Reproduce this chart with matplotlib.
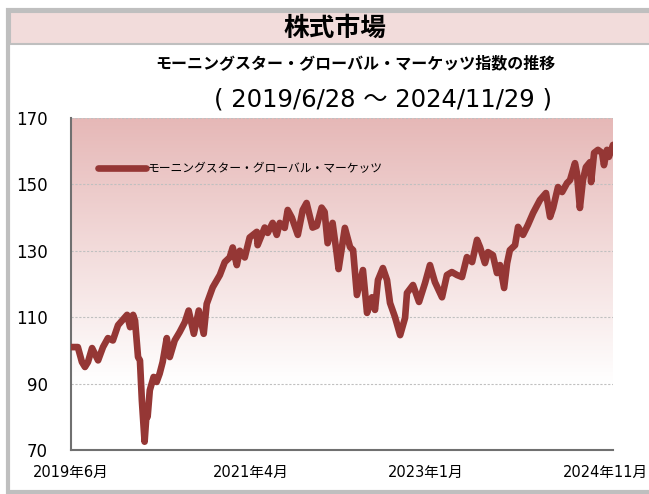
import matplotlib
matplotlib.use("Agg")
import matplotlib.pyplot as plt
import matplotlib.dates as mdate
import matplotlib.transforms as mtrans
from matplotlib.patches import Rectangle
import numpy as np
import pandas as pd

plt.rcParams['font.family'] = ['DejaVu Sans', 'Noto Sans CJK JP']

title = "株式市場"
subtitle = "モーニングスター・グローバル・マーケッツ指数の推移"
period = "( 2019/6/28 ～ 2024/11/29 )"
series_name = "モーニングスター・グローバル・マーケッツ"

dates = [
    "2019-06-28", "2019-07-23", "2019-08-07", "2019-08-18", "2019-08-29", "2019-09-13",
    "2019-10-05", "2019-10-23", "2019-11-10", "2019-11-28", "2019-12-17", "2020-01-19",
    "2020-01-30", "2020-02-10", "2020-02-17", "2020-02-28", "2020-03-06", "2020-03-13",
    "2020-03-23", "2020-03-31", "2020-04-03", "2020-04-11", "2020-04-25", "2020-05-06",
    "2020-05-17", "2020-05-28", "2020-06-12", "2020-06-23", "2020-07-11", "2020-07-29",
    "2020-08-17", "2020-08-31", "2020-09-19", "2020-10-07", "2020-10-25", "2020-11-05",
    "2020-11-27", "2020-12-23", "2021-01-10", "2021-01-28", "2021-02-08", "2021-02-23",
    "2021-03-06", "2021-03-24", "2021-04-11", "2021-05-07", "2021-05-10", "2021-06-05",
    "2021-06-16", "2021-07-04", "2021-07-19", "2021-07-30", "2021-08-17", "2021-08-28",
    "2021-09-12", "2021-10-04", "2021-10-22", "2021-11-05", "2021-11-27", "2021-12-12",
    "2021-12-30", "2022-01-10", "2022-01-21", "2022-02-08", "2022-02-23", "2022-03-02",
    "2022-03-25", "2022-04-13", "2022-04-24", "2022-05-08", "2022-05-30", "2022-06-14",
    "2022-07-02", "2022-07-13", "2022-07-24", "2022-08-11", "2022-08-26", "2022-09-06",
    "2022-09-24", "2022-10-13", "2022-10-31", "2022-11-07", "2022-11-29", "2022-12-21",
    "2023-01-12", "2023-01-30", "2023-02-17", "2023-03-15", "2023-04-02", "2023-04-20",
    "2023-05-09", "2023-05-27", "2023-06-14", "2023-07-03", "2023-07-21", "2023-08-01",
    "2023-08-19", "2023-08-30", "2023-09-17", "2023-10-02", "2023-10-13", "2023-10-28",
    "2023-11-08", "2023-11-18", "2023-12-07", "2023-12-18", "2024-01-05", "2024-01-23",
    "2024-02-11", "2024-03-07", "2024-03-29", "2024-04-13", "2024-04-24", "2024-05-12",
    "2024-05-27", "2024-06-14", "2024-06-25", "2024-07-13", "2024-07-20", "2024-07-31",
    "2024-08-11", "2024-08-22", "2024-09-06", "2024-09-10", "2024-09-21", "2024-10-05",
    "2024-10-20", "2024-10-27", "2024-11-07", "2024-11-14", "2024-11-29",
]
values = [
    101.0, 101.0, 96.5, 95.0, 96.5, 100.7,
    97.0, 101.0, 103.7, 103.0, 107.6, 110.7,
    107.0, 110.7, 109.0, 98.0, 97.0, 85.0,
    72.5, 82.0, 80.0, 88.0, 92.0, 90.5,
    93.0, 96.5, 103.7, 98.0, 103.0, 105.5,
    108.5, 112.0, 105.0, 112.0, 105.0, 114.0,
    119.0, 122.7, 126.6, 128.0, 131.0, 125.7,
    130.0, 128.0, 134.0, 135.7, 131.7, 137.0,
    135.4, 138.4, 134.8, 138.4, 136.9, 142.3,
    140.0, 134.8, 142.3, 144.4, 137.0, 137.5,
    143.0, 141.7, 132.3, 138.4, 129.3, 124.5,
    136.9, 131.1, 130.2, 116.7, 124.2, 111.3,
    116.0, 112.2, 121.2, 124.8, 121.2, 114.3,
    110.1, 104.6, 109.8, 117.3, 119.7, 114.6,
    120.3, 125.7, 120.6, 116.0, 122.7, 123.6,
    122.7, 122.1, 128.1, 126.6, 133.3, 131.1,
    126.3, 129.6, 128.7, 123.3, 125.7, 118.8,
    126.3, 130.2, 131.7, 137.2, 134.8, 137.8,
    141.4, 145.3, 147.4, 140.2, 142.9, 149.2,
    147.7, 150.4, 151.3, 156.4, 153.4, 142.9,
    151.3, 155.2, 156.7, 150.7, 159.5, 160.4,
    159.5, 155.8, 160.4, 158.3, 161.9,
]

y_ticks = [70, 90, 110, 130, 150, 170]
x_tick_dates = ["2019-06-28", "2021-04-15", "2023-01-15", "2024-11-29"]
x_tick_labels = ["2019年6月", "2021年4月", "2023年1月", "2024年11月"]

line_color = "#953735"

x = pd.to_datetime(dates)

fig = plt.figure(figsize=(6.49, 4.94), dpi=100)

# outer frame and header band
fig.patches.append(Rectangle((8 / 649, 2 / 494), 660 / 649, 482 / 494, transform=fig.transFigure,
                             facecolor="white", edgecolor="#bfbfbf", linewidth=3, zorder=-3))
fig.patches.append(Rectangle((10 / 649, 450 / 494), 660 / 649, 32 / 494, transform=fig.transFigure,
                             facecolor="#f2dcdb", edgecolor="#bfbfbf", linewidth=1.5, zorder=-2))
fig.text(335 / 649, 1 - 28 / 494, title, ha="center", va="center", fontsize=18.5,
         fontweight="bold", family=["Noto Sans CJK JP"])
fig.text(355 / 649, 1 - 63 / 494, subtitle, ha="center", va="center", fontsize=11.5,
         fontweight="bold", family=["Noto Sans CJK JP"])
fig.text(383 / 649, 1 - 100 / 494, period, ha="center", va="center", fontsize=17.5,
         family=["DejaVu Sans", "Noto Sans CJK JP"])

ax = fig.add_axes([71 / 649, 1 - 450 / 494, 542 / 649, 332 / 494])
ax.set_facecolor("none")

# gradient background
grad = np.linspace(0, 1, 256)
grad = np.clip(grad / 0.8, 0, 1)[:, None]
top = np.array([230, 184, 183]) / 255
img = top[None, None, :] * (1 - grad[:, :, None]) + np.ones(3)[None, None, :] * grad[:, :, None]
ax.imshow(img, extent=[0, 1, 0, 1], transform=ax.transAxes, aspect="auto", zorder=0)

ax.plot(x, values, color=line_color, linewidth=4.8, solid_joinstyle="round",
        solid_capstyle="round", label=series_name, zorder=3)

ax.set_xlim(x[0], x[-1])
ax.set_ylim(70, 170)
ax.set_yticks(y_ticks)
ax.set_xticks(pd.to_datetime(x_tick_dates))
ax.set_xticklabels(x_tick_labels)
ax.tick_params(axis="y", length=0, pad=16.5, labelsize=12)
ax.tick_params(axis="x", length=0, pad=11, labelsize=10.5)
ax.grid(axis="y", color="#c0c0c0", linestyle=(0, (2, 1.5)), linewidth=0.8, zorder=1)
ax.set_axisbelow(True)

for s in ["top", "right"]:
    ax.spines[s].set_visible(False)
for s in ["left", "bottom"]:
    ax.spines[s].set_color("#707070")
    ax.spines[s].set_linewidth(1.5)

labels = ax.get_xticklabels()
offset = mtrans.ScaledTranslation(0.35, 0, fig.dpi_scale_trans)
labels[-1].set_horizontalalignment("right")
labels[-1].set_transform(labels[-1].get_transform() + offset)

leg = ax.legend(loc="upper left", bbox_to_anchor=(0.03, 0.9), frameon=False,
                handlelength=4.1, handletextpad=0.15, prop={"family": ["Noto Sans CJK JP"], "size": 8.5})

fig.savefig("out.png", dpi=100)
